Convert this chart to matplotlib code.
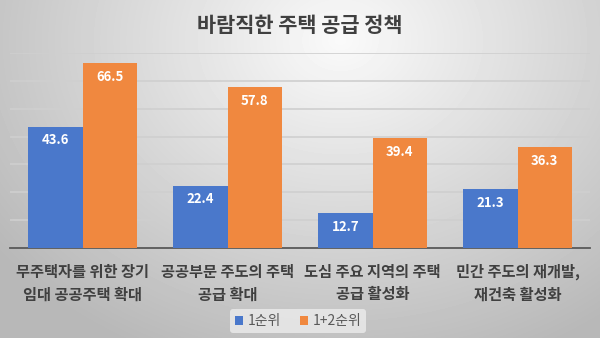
import numpy as np
import matplotlib.pyplot as plt

plt.rcParams['font.family'] = ['Noto Sans CJK KR', 'DejaVu Sans']

# 데이터
categories = ['무주택자를 위한 장기\n임대 공공주택 확대',
              '공공부문 주도의 주택\n공급 확대',
              '도심 주요 지역의 주택\n공급 활성화',
              '민간 주도의 재개발,\n재건축 활성화']
first_rank = [43.6, 22.4, 12.7, 21.3]
first_second_rank = [66.5, 57.8, 39.4, 36.3]
series_names = ['1순위', '1+2순위']

blue = '#4a78cb'
orange = '#f0883f'
text_color = '#404040'

fig = plt.figure(figsize=(6, 3.38), dpi=100)

# 배경: 회색 방사형 그라데이션
bg = fig.add_axes([0, 0, 1, 1], zorder=-10)
yy, xx = np.mgrid[0:338, 0:600]
r = np.sqrt(((xx - 340) / 400.0) ** 2 + ((yy - 40) / 320.0) ** 2)
shade = np.clip(0.98 - 0.24 * r, 0.72, 0.98)
bg.imshow(shade, cmap='gray', vmin=0, vmax=1, aspect='auto', extent=[0, 1, 0, 1])
bg.axis('off')

ax = fig.add_axes([10 / 600, 90 / 338, 580 / 600, 195 / 338])
ax.set_facecolor('none')

x = np.arange(len(categories))
w = 0.375
b1 = ax.bar(x - w / 2, first_rank, w, color=blue, label=series_names[0], zorder=3)
b2 = ax.bar(x + w / 2, first_second_rank, w, color=orange, label=series_names[1], zorder=3)

for bars in (b1, b2):
    for bar in bars:
        h = bar.get_height()
        ax.annotate(f'{h:.1f}', (bar.get_x() + bar.get_width() / 2, h),
                    xytext=(0, -10), textcoords='offset points',
                    ha='center', va='center', color='white',
                    fontsize=9.5, fontweight='bold', zorder=4)

ax.set_xlim(-0.5, len(categories) - 0.5)
ax.set_ylim(0, 70)
ax.set_yticks(np.arange(10, 71, 10))
ax.yaxis.grid(True, color='#cfcfcf', linewidth=1.2, zorder=0)
ax.tick_params(axis='y', left=False, labelleft=False)
ax.tick_params(axis='x', bottom=False, pad=8)
ax.set_xticks(x)
ax.set_xticklabels(categories, fontsize=11, fontweight='bold', color=text_color,
                   linespacing=1.5)
for s in ['top', 'right', 'left']:
    ax.spines[s].set_visible(False)
ax.spines['bottom'].set_color('#595959')
ax.spines['bottom'].set_linewidth(1.3)

fig.text(0.5, 1 - 25 / 338, '바람직한 주택 공급 정책', ha='center', va='center',
         fontsize=15, fontweight='semibold', color=text_color)

leg = fig.legend(loc='center', bbox_to_anchor=(298 / 600, 1 - 321 / 338), ncol=2,
                 frameon=True, fontsize=10, handlelength=0.6, handleheight=0.6,
                 handletextpad=0.3, columnspacing=1.4, borderpad=0.35)
leg.get_frame().set_facecolor('#ececec')
leg.get_frame().set_edgecolor('none')
leg.get_frame().set_alpha(0.8)
for t in leg.get_texts():
    t.set_color('#595959')

fig.savefig('out.png', dpi=100)
